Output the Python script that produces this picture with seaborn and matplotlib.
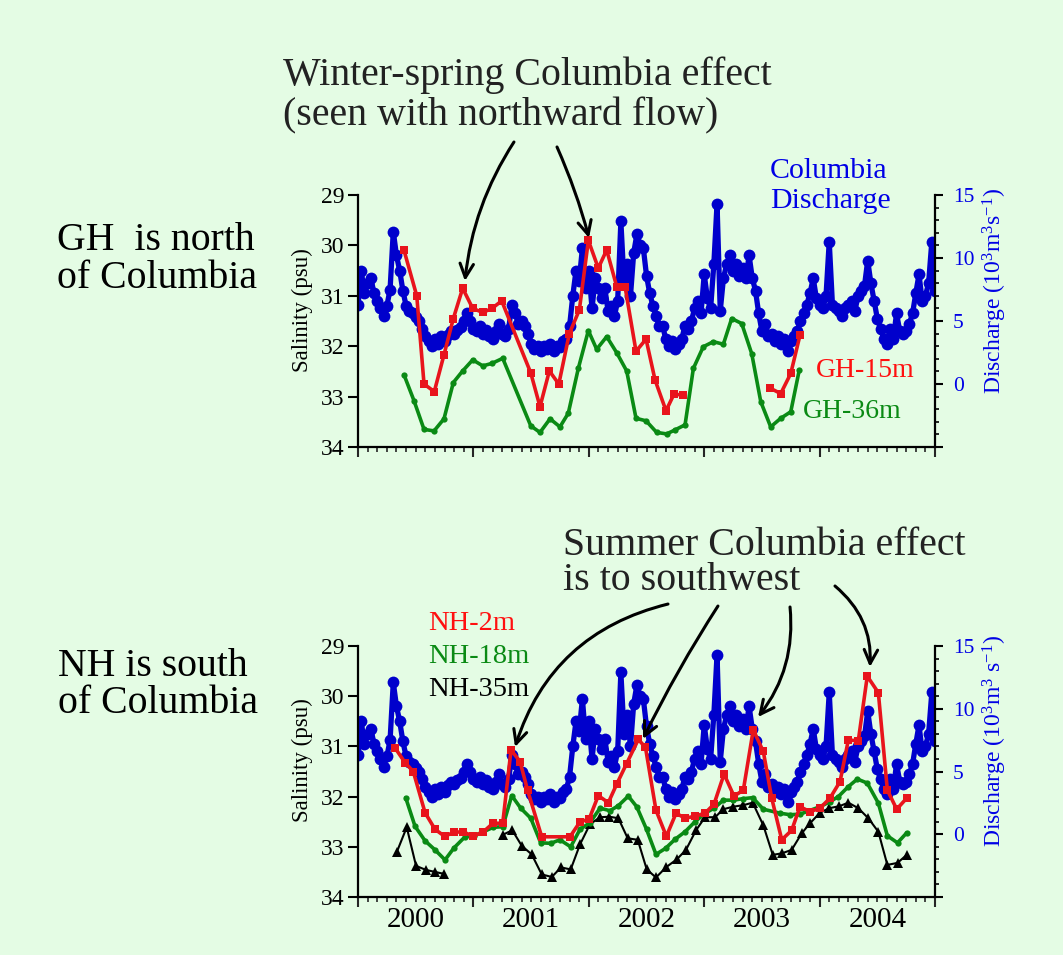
import matplotlib
matplotlib.use('Agg')
import matplotlib.pyplot as plt
import seaborn as sns
import numpy as np
import pandas as pd
from matplotlib.patches import FancyArrowPatch
from matplotlib.ticker import FixedLocator, MultipleLocator, FuncFormatter, NullFormatter

nan = np.nan

# Columbia discharge (10^3 m^3/s), read every ~10 days from 2000.0 to 2005.0
Q_START, Q_STEP = 2000.0, 1 / 36
DISCHARGE = [6.3, 9.0, 7.2, 8.0, 8.4, 7.2, 6.6, 6.0, 5.4, 6.2,
             7.5, 12.1, 10.2, 9.0, 7.4, 6.2, 5.8, 5.6, 5.3, 5.0,
             4.4, 3.8, 3.4, 3.0, 3.6, 3.2, 3.8, 3.4, 3.9, 4.2,
             4.0, 4.3, 4.5, 5.0, 5.6, 5.0, 4.4, 4.2, 4.6, 4.0,
             4.3, 3.8, 3.6, 4.2, 4.8, 4.0, 3.8, 4.4, 6.3, 5.6,
             4.8, 5.0, 4.6, 4.0, 3.2, 2.8, 3.0, 2.6, 3.0, 2.8,
             3.2, 2.6, 3.0, 2.9, 3.4, 3.6, 4.6, 7.0, 9.0, 8.2,
             10.8, 7.6, 9.0, 6.0, 8.4, 7.6, 6.8, 7.6, 5.8, 6.2,
             5.4, 6.6, 12.9, 8.0, 9.5, 7.0, 10.4, 11.9, 11.0, 10.8,
             8.6, 7.2, 6.2, 5.4, 4.6, 4.6, 3.6, 3.0, 3.4, 2.8,
             3.2, 3.6, 4.6, 4.4, 5.0, 6.0, 6.6, 5.6, 8.7, 6.8,
             6.0, 9.5, 14.3, 5.8, 8.4, 9.5, 10.2, 9.0, 9.5, 8.6,
             9.2, 8.4, 10.2, 8.4, 7.4, 5.6, 4.2, 4.8, 3.8, 4.0,
             3.4, 3.8, 3.2, 3.6, 2.6, 3.4, 3.8, 4.2, 5.0, 5.6,
             6.3, 7.2, 8.4, 6.8, 6.3, 6.0, 7.0, 11.3, 6.3, 6.0,
             5.8, 5.4, 6.0, 6.3, 6.6, 5.8, 7.0, 7.4, 7.8, 9.8,
             8.0, 6.6, 5.2, 4.4, 3.6, 3.2, 4.4, 3.6, 5.6, 4.2,
             4.0, 4.2, 4.8, 5.6, 7.2, 8.7, 6.6, 7.0, 8.0, 11.3,
             7.4]

# Grays Harbor salinity (psu)
GH15_T = [2000.399, 2000.509, 2000.572, 2000.661, 2000.745, 2000.826, 2000.907, 2000.994,
          2001.081, 2001.161, 2001.245, 2001.497, 2001.577, 2001.658, 2001.74, 2001.831,
          2001.918, 2001.996, 2002.082, 2002.155, 2002.242, 2002.314, 2002.409, 2002.496,
          2002.574, 2002.669, 2002.738, 2002.819, nan, 2003.570, 2003.663, 2003.750, 2003.830]
GH15_S = [30.1, 31.0, 32.75, 32.9, 32.17, 31.45, 30.85, 31.25, 31.33, 31.25, 31.1,
          32.53, 33.2, 32.49, 32.75, 31.75, 31.28, 29.9, 30.45, 30.09, 30.82, 30.82,
          32.1, 31.86, 32.67, 33.28, 32.95, 32.97, nan, 32.83, 32.94, 32.54, 31.78]
GH36_T = [2000.399, 2000.485, 2000.572, 2000.659, 2000.745, 2000.826, 2000.907, 2000.994,
          2001.081, 2001.161, 2001.254, 2001.497, 2001.577, 2001.664, 2001.750, 2001.822,
          2001.909, 2001.996, 2002.068, 2002.155, 2002.242, 2002.328, 2002.409, 2002.496,
          2002.588, 2002.675, 2002.747, 2002.834, 2002.906, 2002.992, 2003.079, 2003.166,
          2003.238, 2003.325, 2003.412, 2003.490, 2003.576, 2003.663, 2003.750, 2003.824]
GH36_S = [32.57, 33.08, 33.65, 33.68, 33.44, 32.72, 32.49, 32.27, 32.39, 32.34, 32.24,
          33.58, 33.71, 33.44, 33.6, 33.33, 32.44, 31.69, 32.06, 31.81, 32.13, 32.49,
          33.43, 33.48, 33.71, 33.74, 33.66, 33.56, 32.44, 32.01, 31.91, 31.96, 31.45,
          31.55, 32.15, 33.1, 33.6, 33.43, 33.3, 32.47]

# Newport Hydroline salinity (psu)
NH2_T = [2000.321, 2000.407, 2000.479, 2000.581, 2000.667, 2000.750, 2000.832, 2000.910,
         2000.999, 2001.086, 2001.170, 2001.254, 2001.326, 2001.404, 2001.469, 2001.592,
         2001.837, 2001.924, 2002.002, 2002.082, 2002.169, 2002.244, 2002.328, 2002.429,
         2002.491, 2002.582, 2002.672, 2002.756, 2002.834, 2002.920, 2003.007, 2003.085,
         2003.172, 2003.258, 2003.339, 2003.425, 2003.512, 2003.585, 2003.672, 2003.758,
         2003.830, 2003.917, 2004.003, 2004.090, 2004.177, 2004.249, 2004.335, 2004.413,
         2004.509, 2004.587, 2004.668, 2004.755]
NH2_S = [31.03, 31.32, 31.5, 32.32, 32.65, 32.79, 32.71, 32.7, 32.79, 32.7, 32.53, 32.53,
         31.07, 31.3, 31.87, 32.8, 32.8, 32.5, 32.45, 31.98, 32.12, 31.74, 31.34, 30.86,
         31.02, 32.27, 32.79, 32.33, 32.43, 32.39, 32.33, 32.15, 31.55, 31.99, 31.87, 30.67,
         31.1, 32.03, 32.86, 32.67, 32.2, 32.3, 32.23, 32.03, 31.7, 30.87, 30.89, 29.6,
         29.93, 31.87, 32.25, 32.03]
NH18_T = [2000.413, 2000.494, 2000.581, 2000.667, 2000.754, 2000.832, 2000.927, 2001.005,
          2001.086, 2001.172, 2001.254, 2001.332, 2001.410, 2001.497, 2001.583, 2001.670,
          2001.750, 2001.843, 2001.924, 2002.010, 2002.097, 2002.184, 2002.256, 2002.342,
          2002.415, 2002.500, 2002.582, 2002.665, 2002.747, 2002.834, 2002.920, 2003.007,
          2003.085, 2003.166, 2003.252, 2003.339, 2003.420, 2003.512, 2003.657, 2003.744,
          2003.830, 2004.003, 2004.090, 2004.162, 2004.249, 2004.327, 2004.413, 2004.509,
          2004.587, 2004.675, 2004.755]
NH18_S = [32.02, 32.59, 32.88, 33.06, 33.26, 33.02, 32.8, 32.78, 32.7, 32.61, 32.6, 31.98,
          32.23, 32.43, 32.92, 32.93, 32.86, 33.0, 32.65, 32.52, 32.23, 32.28, 32.18, 31.99,
          32.2, 32.65, 33.15, 33.03, 32.85, 32.7, 32.5, 32.33, 32.23, 32.07, 32.07, 32.04,
          32.02, 32.25, 32.33, 32.36, 32.35, 32.2, 32.1, 32.0, 31.8, 31.65, 31.73, 32.13,
          32.78, 32.92, 32.72]
NH35_T = [2000.335, 2000.422, 2000.503, 2000.589, 2000.667, 2000.748, nan,
          2001.254, 2001.337, 2001.419, 2001.505, 2001.592, 2001.679, 2001.759, 2001.843,
          2001.924, 2002.010, 2002.097, 2002.178, 2002.256, 2002.337, 2002.424, 2002.502,
          2002.582, 2002.673, 2002.762, 2002.842, 2002.929, 2003.007, 2003.094, 2003.166,
          2003.252, 2003.339, 2003.420, 2003.512, 2003.594, 2003.672, 2003.758, 2003.845,
          2003.917, 2004.003, 2004.084, 2004.171, 2004.249, 2004.335, 2004.422, 2004.509,
          2004.587, 2004.675, 2004.755]
NH35_S = [33.11, 32.61, 33.38, 33.46, 33.5, 33.54, nan,
          32.76, 32.67, 32.98, 33.15, 33.55, 33.6, 33.41, 33.45, 32.95, 32.55, 32.41, 32.4,
          32.43, 32.83, 32.86, 33.45, 33.61, 33.4, 33.25, 33.06, 32.67, 32.41, 32.41, 32.25,
          32.2, 32.17, 32.12, 32.57, 33.16, 33.13, 33.06, 32.73, 32.53, 32.32, 32.23, 32.19,
          32.12, 32.23, 32.43, 32.7, 33.36, 33.32, 33.16]

YEARS = [2000, 2001, 2002, 2003, 2004]

BG = '#e4fce4'
BLUE = '#0000cc'
BLUE_TXT = '#0000e6'
RED = '#e8141c'
GREEN = '#0a8a14'
BLACK = '#000000'

sns.set_theme(style='ticks')
plt.rcParams['font.family'] = ['Liberation Serif', 'DejaVu Serif']
plt.rcParams.update({'mathtext.fontset': 'custom', 'mathtext.rm': 'Liberation Serif',
                     'mathtext.it': 'Liberation Serif:italic', 'mathtext.bf': 'Liberation Serif:bold'})


def to_frame(t, s):
    # gaps in the record are marked by nan -> separate line segments
    df = pd.DataFrame({'t': t, 's': s})
    df['seg'] = df['s'].isna().cumsum()
    return df.dropna()


def salinity_line(ax, t, s, color, marker, ms, lw):
    sns.lineplot(data=to_frame(t, s), x='t', y='s', units='seg', estimator=None, ax=ax,
                 color=color, marker=marker, markersize=ms, markeredgewidth=0,
                 linewidth=lw, legend=False, zorder=3)


def setup_panel(ax, ax2, show_years, qlabel):
    ax.set_zorder(ax2.get_zorder() + 1)
    ax.patch.set_visible(False)
    ax2.patch.set_visible(False)

    ax.set_xlim(2000, 2005)
    ax.xaxis.set_major_locator(FixedLocator(range(2000, 2006)))
    ax.xaxis.set_major_formatter(NullFormatter())
    months = [2000 + m / 12 for m in range(1, 60) if m % 12]
    ax.xaxis.set_minor_locator(FixedLocator(months))
    if show_years:
        ax.xaxis.set_minor_formatter(FuncFormatter(
            lambda v, p: str(int(v)) if abs(v - int(v) - 0.5) < 1e-6 else ''))
    else:
        ax.xaxis.set_minor_formatter(NullFormatter())

    ax.set_ylim(34, 29)
    ax.yaxis.set_major_locator(FixedLocator([29, 30, 31, 32, 33, 34]))
    ax.yaxis.set_minor_locator(FixedLocator([]))
    ax.set_xlabel('')
    ax.set_ylabel('Salinity (psu)', fontsize=16.5, color='black')
    ax.yaxis.set_label_coords(-0.078, 0.545)

    ax.tick_params(axis='y', which='major', direction='out', length=7, width=1.5,
                   labelsize=17, pad=3, colors='black')
    ax.tick_params(axis='x', which='major', direction='out', length=7, width=1.5)
    ax.tick_params(axis='x', which='minor', direction='out', length=3.5, width=1.2,
                   labelsize=21, pad=4, labelcolor='black')

    ax2.set_ylim(-5, 15)
    ax2.yaxis.set_major_locator(FixedLocator([-5, 0, 5, 10, 15]))
    ax2.yaxis.set_major_formatter(FuncFormatter(lambda v, p: '' if v < 0 else f'{v:g}'))
    ax2.yaxis.set_minor_locator(MultipleLocator(1))
    ax2.tick_params(axis='y', which='major', direction='out', length=6, width=1.5,
                    labelsize=15.5, pad=7, color='black', labelcolor=BLUE_TXT)
    ax2.tick_params(axis='y', which='minor', direction='out', length=3, width=1.2, color='black')
    ax2.set_ylabel(qlabel, fontsize=17, color=BLUE_TXT)
    ax2.yaxis.set_label_coords(1.08, 0.62)

    for sp in ('top', 'right'):
        ax.spines[sp].set_visible(False)
    for sp in ('top', 'left', 'bottom'):
        ax2.spines[sp].set_visible(False)
    for sp in ('left', 'bottom'):
        ax.spines[sp].set_linewidth(1.6)
        ax.spines[sp].set_color('black')
    ax2.spines['right'].set_linewidth(1.6)
    ax2.spines['right'].set_color('black')


fig = plt.figure(figsize=(10.63, 9.55), dpi=100, facecolor=BG)
ax_top = fig.add_axes([0.3368, 0.5319, 0.5428, 0.2639])
ax_bot = fig.add_axes([0.3368, 0.0607, 0.5428, 0.2628])
q_t = Q_START + Q_STEP * np.arange(len(DISCHARGE))

for ax, show_years, qlabel in ((ax_top, False, r'Discharge (10$^3$m$^3$s$^{-1}$)'),
                               (ax_bot, True, r'Discharge (10$^3$m$^3$ s$^{-1}$)')):
    ax2 = ax.twinx()
    sns.lineplot(x=q_t, y=DISCHARGE, ax=ax2, color=BLUE, marker='o', markersize=8.5,
                 markeredgewidth=0, linewidth=3.8, legend=False)
    if ax is ax_top:
        salinity_line(ax, GH36_T, GH36_S, GREEN, 'o', 4.5, 2.6)
        salinity_line(ax, GH15_T, GH15_S, RED, 's', 5.5, 2.6)
    else:
        salinity_line(ax, NH35_T, NH35_S, BLACK, '^', 6.5, 1.5)
        salinity_line(ax, NH18_T, NH18_S, GREEN, 'o', 4.5, 2.6)
        salinity_line(ax, NH2_T, NH2_S, RED, 's', 5.5, 2.6)
    setup_panel(ax, ax2, show_years, qlabel)

# annotation text
big = dict(fontsize=28.7, color='#222222', va='baseline', ha='left')
fig.text(0.2662, 0.9110, 'Winter-spring Columbia effect', **big)
fig.text(0.2662, 0.8691, '(seen with northward flow)', **big)
fig.text(0.5296, 0.4188, 'Summer Columbia effect', **big)
fig.text(0.5296, 0.3822, 'is to southwest', **big)

side = dict(fontsize=28.6, color='black', va='baseline', ha='left')
fig.text(0.0536, 0.7382, 'GH  is north', **side)
fig.text(0.0536, 0.6984, 'of Columbia', **side)
fig.text(0.0546, 0.2921, 'NH is south', **side)
fig.text(0.0546, 0.2534, 'of Columbia', **side)

fig.text(0.7244, 0.8136, 'Columbia', fontsize=21.5, color=BLUE_TXT, va='baseline')
fig.text(0.7244, 0.7822, 'Discharge', fontsize=21.5, color=BLUE_TXT, va='baseline')
fig.text(0.7676, 0.6052, 'GH-15m', fontsize=20, color='#ff1010', va='baseline')
fig.text(0.7554, 0.5623, 'GH-36m', fontsize=20, color=GREEN, va='baseline')
fig.text(0.4026, 0.3403, 'NH-2m', fontsize=20.5, color='#ff1010', va='baseline')
fig.text(0.4026, 0.3058, 'NH-18m', fontsize=20.5, color=GREEN, va='baseline')
fig.text(0.4026, 0.2712, 'NH-35m', fontsize=20.5, color='black', va='baseline')

# curved arrows (figure fraction): start, tip, curvature
ARROWS = [((0.4835, 0.8513), (0.4374, 0.7058), 0.12),
          ((0.5240, 0.8461), (0.5541, 0.7508), -0.04),
          ((0.6284, 0.3675), (0.4845, 0.2178), 0.28),
          ((0.6754, 0.3654), (0.6049, 0.2262), 0.03),
          ((0.7432, 0.3644), (0.7131, 0.2492), -0.2),
          ((0.7855, 0.3864), (0.8184, 0.3016), -0.25)]
for start, tip, rad in ARROWS:
    fig.add_artist(FancyArrowPatch(start, tip, transform=fig.transFigure,
                                   connectionstyle=f'arc3,rad={rad}',
                                   arrowstyle='->,head_length=0.45,head_width=0.22',
                                   mutation_scale=22, lw=2.2, color='black',
                                   shrinkA=0, shrinkB=0, zorder=10))

fig.savefig('out.png', dpi=100, facecolor=BG)
